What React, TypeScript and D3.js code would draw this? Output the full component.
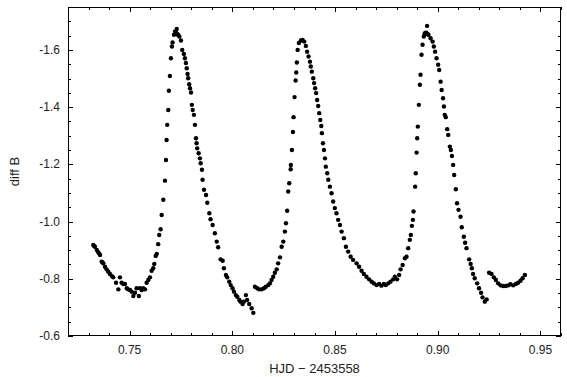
import React from "react";
import * as d3 from "d3";

// HJD - 2453558 (x) and differential B magnitude (y)
const minimum1: [number, number][] = [
  [0.7323, -0.918], [0.7327, -0.915], [0.7331, -0.912], [0.7340, -0.901], [0.7347, -0.893],
  [0.7352, -0.888], [0.7356, -0.883], [0.7364, -0.860], [0.7368, -0.857], [0.7372, -0.854],
  [0.7380, -0.842], [0.7388, -0.833], [0.7396, -0.825], [0.7404, -0.817], [0.7413, -0.810],
  [0.7420, -0.805], [0.7434, -0.786], [0.7445, -0.763], [0.7453, -0.805], [0.7461, -0.786],
  [0.7469, -0.782], [0.7477, -0.782], [0.7486, -0.767], [0.7493, -0.763], [0.7502, -0.761],
  [0.7510, -0.755], [0.7518, -0.740], [0.7526, -0.751], [0.7534, -0.767], [0.7545, -0.740],
  [0.7550, -0.767], [0.7559, -0.761], [0.7566, -0.767], [0.7575, -0.763], [0.7583, -0.786],
  [0.7591, -0.796], [0.7599, -0.805], [0.7607, -0.828], [0.7615, -0.837], [0.7620, -0.852],
  [0.7627, -0.880], [0.7632, -0.887], [0.7639, -0.921], [0.7644, -0.953], [0.7651, -0.973],
];

const rise1: [number, number][] = [
  [0.7656, -1.023], [0.7664, -1.076], [0.7672, -1.143], [0.7677, -1.215], [0.7680, -1.285],
  [0.7683, -1.338], [0.7688, -1.390], [0.7691, -1.457], [0.7696, -1.509], [0.7701, -1.571],
  [0.7706, -1.612], [0.7709, -1.626], [0.7716, -1.653], [0.7721, -1.664], [0.7725, -1.660],
  [0.7729, -1.673], [0.7736, -1.652],
];

const fall1: [number, number][] = [
  [0.7732, -1.656], [0.7742, -1.647], [0.7750, -1.633], [0.7756, -1.600], [0.7764, -1.586],
  [0.7769, -1.571], [0.7774, -1.554], [0.7778, -1.536], [0.7782, -1.516], [0.7785, -1.501],
  [0.7790, -1.480], [0.7794, -1.466], [0.7799, -1.451], [0.7803, -1.408], [0.7807, -1.390],
  [0.7813, -1.373], [0.7818, -1.338], [0.7823, -1.291], [0.7826, -1.274], [0.7829, -1.256],
  [0.7836, -1.239], [0.7842, -1.221], [0.7846, -1.204], [0.7852, -1.181], [0.7855, -1.146],
  [0.7862, -1.111], [0.7872, -1.093], [0.7878, -1.066], [0.7888, -1.029], [0.7894, -1.008],
  [0.7904, -0.988], [0.7915, -0.959], [0.7924, -0.930], [0.7931, -0.910], [0.7943, -0.868],
  [0.7953, -0.863], [0.7959, -0.837], [0.7969, -0.813], [0.7975, -0.805], [0.7985, -0.790],
  [0.7992, -0.778], [0.8001, -0.767], [0.8008, -0.755], [0.8017, -0.743], [0.8024, -0.737],
  [0.8034, -0.726], [0.8040, -0.720], [0.8050, -0.712], [0.8056, -0.720], [0.8066, -0.743],
  [0.8072, -0.726], [0.8082, -0.712], [0.8094, -0.697], [0.8102, -0.681],
];

const minimum2: [number, number][] = [
  [0.8110, -0.772], [0.8121, -0.767], [0.8131, -0.763], [0.8143, -0.763], [0.8154, -0.767],
  [0.8163, -0.772], [0.8175, -0.778], [0.8183, -0.784], [0.8191, -0.796], [0.8199, -0.807],
  [0.8207, -0.821], [0.8216, -0.833], [0.8223, -0.854], [0.8232, -0.875], [0.8240, -0.912],
  [0.8248, -0.930], [0.8256, -0.965], [0.8261, -0.994], [0.8267, -1.038], [0.8272, -1.105],
  [0.8277, -1.134], [0.8284, -1.183], [0.8285, -1.198], [0.8290, -1.250], [0.8295, -1.313],
  [0.8298, -1.365], [0.8303, -1.435], [0.8308, -1.493], [0.8311, -1.521], [0.8314, -1.556],
  [0.8318, -1.600], [0.8324, -1.624], [0.8334, -1.633], [0.8342, -1.635], [0.8350, -1.629],
];

const fall2: [number, number][] = [
  [0.8358, -1.614], [0.8364, -1.594], [0.8371, -1.577], [0.8378, -1.559], [0.8382, -1.542],
  [0.8387, -1.524], [0.8394, -1.501], [0.8398, -1.484], [0.8403, -1.466], [0.8408, -1.449],
  [0.8413, -1.425], [0.8418, -1.404], [0.8423, -1.379], [0.8428, -1.355], [0.8433, -1.334],
  [0.8436, -1.309], [0.8441, -1.274], [0.8446, -1.250], [0.8451, -1.221], [0.8455, -1.192],
  [0.8462, -1.169], [0.8467, -1.146], [0.8475, -1.122], [0.8483, -1.099], [0.8491, -1.070],
  [0.8499, -1.047], [0.8507, -1.029], [0.8515, -1.006], [0.8524, -0.988], [0.8532, -0.965],
  [0.8543, -0.942], [0.8553, -0.912], [0.8564, -0.895], [0.8576, -0.877], [0.8588, -0.866],
  [0.8605, -0.854], [0.8617, -0.842], [0.8629, -0.828], [0.8640, -0.817], [0.8653, -0.807],
  [0.8666, -0.798], [0.8678, -0.790], [0.8689, -0.784], [0.8702, -0.778], [0.8715, -0.782],
  [0.8726, -0.776], [0.8738, -0.782], [0.8747, -0.778], [0.8759, -0.784], [0.8770, -0.790],
  [0.8783, -0.798], [0.8791, -0.807], [0.8802, -0.798], [0.8812, -0.813],
];

const rise3: [number, number][] = [
  [0.8819, -0.833], [0.8829, -0.848], [0.8840, -0.872], [0.8848, -0.877], [0.8856, -0.907],
  [0.8864, -0.936], [0.8869, -0.953], [0.8874, -0.985], [0.8879, -1.006], [0.8882, -1.035],
  [0.8890, -1.122], [0.8893, -1.169], [0.8897, -1.241], [0.8900, -1.291], [0.8903, -1.332],
  [0.8908, -1.408], [0.8913, -1.478], [0.8916, -1.513], [0.8921, -1.583], [0.8926, -1.618],
  [0.8932, -1.647], [0.8936, -1.656], [0.8939, -1.659], [0.8944, -1.660], [0.8948, -1.684],
  [0.8951, -1.655],
];

const fall3: [number, number][] = [
  [0.8955, -1.653], [0.8965, -1.641], [0.8975, -1.629], [0.8981, -1.612], [0.8987, -1.594],
  [0.8994, -1.571], [0.9002, -1.548], [0.9007, -1.530], [0.9014, -1.489], [0.9019, -1.460],
  [0.9026, -1.431], [0.9030, -1.402], [0.9034, -1.373], [0.9039, -1.365], [0.9046, -1.323],
  [0.9051, -1.303], [0.9059, -1.262], [0.9064, -1.250], [0.9069, -1.229], [0.9075, -1.198],
  [0.9080, -1.163], [0.9088, -1.113], [0.9094, -1.064], [0.9101, -1.041], [0.9111, -1.017],
  [0.9117, -0.980], [0.9127, -0.947], [0.9133, -0.926], [0.9140, -0.907], [0.9153, -0.868],
  [0.9160, -0.852], [0.9166, -0.837], [0.9172, -0.817], [0.9180, -0.802], [0.9192, -0.784],
  [0.9201, -0.767], [0.9211, -0.751], [0.9218, -0.735], [0.9229, -0.720], [0.9238, -0.728],
];

const minimum4: [number, number][] = [
  [0.9250, -0.821], [0.9262, -0.817], [0.9273, -0.805], [0.9283, -0.796], [0.9294, -0.784],
  [0.9306, -0.777], [0.9318, -0.775], [0.9331, -0.775], [0.9343, -0.777], [0.9354, -0.781],
  [0.9367, -0.777], [0.9380, -0.782], [0.9391, -0.786], [0.9403, -0.793], [0.9413, -0.802],
  [0.9424, -0.813],
];

const xMajorTicks = [0.75, 0.8, 0.85, 0.9, 0.95];
const yMajorTicks = [-0.6, -0.8, -1.0, -1.2, -1.4, -1.6];
const xLabel = "HJD \u2212 2453558";
const yLabel = "diff B";

const W = 567;
const H = 377;
const L = 68;
const R = 561;
const T = 7;
const B = 336;

export default function App() {
  const x = d3.scaleLinear().domain([0.72, 0.96]).range([L, R]);
  const y = d3.scaleLinear().domain([-0.6, -1.75]).range([B, T]);
  const points = [
    ...minimum1, ...rise1, ...fall1, ...minimum2, ...fall2, ...rise3, ...fall3, ...minimum4,
  ];
  const xMinor = d3.range(72, 97).map((v) => v / 100);
  const yMinor = d3.range(12, 36).map((v) => -v / 20);
  const font = "'Liberation Sans', Arial, sans-serif";
  const tickColor = "#222";
  return (
    <svg
      width={W}
      height={H}
      style={{ position: "fixed", left: 0, top: 0, background: "#fff" }}
      fontFamily={font}
    >
      <rect x={0} y={0} width={W} height={H} fill="#fff" />
      {xMinor.map((v, i) => (
        <g key={"xm" + i} stroke="#000" strokeWidth={1}>
          <line x1={Math.round(x(v)) + 0.5} x2={Math.round(x(v)) + 0.5} y1={B} y2={B - 3} />
          <line x1={Math.round(x(v)) + 0.5} x2={Math.round(x(v)) + 0.5} y1={T} y2={T + 3} />
        </g>
      ))}
      {yMinor.map((v, i) => (
        <g key={"ym" + i} stroke="#000" strokeWidth={1}>
          <line x1={L} x2={L + 3} y1={Math.round(y(v)) + 0.5} y2={Math.round(y(v)) + 0.5} />
          <line x1={R} x2={R - 3} y1={Math.round(y(v)) + 0.5} y2={Math.round(y(v)) + 0.5} />
        </g>
      ))}
      {xMajorTicks.map((v, i) => (
        <g key={"xM" + i}>
          <line x1={Math.round(x(v)) + 0.5} x2={Math.round(x(v)) + 0.5} y1={B} y2={B - 5} stroke="#000" />
          <line x1={Math.round(x(v)) + 0.5} x2={Math.round(x(v)) + 0.5} y1={T} y2={T + 5} stroke="#000" />
          <text x={x(v)} y={354} textAnchor="middle" fontSize={12} fill={tickColor}>
            {d3.format(".2f")(v)}
          </text>
        </g>
      ))}
      {yMajorTicks.map((v, i) => (
        <g key={"yM" + i}>
          <line x1={L} x2={L + 5} y1={Math.round(y(v)) + 0.5} y2={Math.round(y(v)) + 0.5} stroke="#000" />
          <line x1={R} x2={R - 5} y1={Math.round(y(v)) + 0.5} y2={Math.round(y(v)) + 0.5} stroke="#000" />
          <text x={60} y={y(v) + 4} textAnchor="end" fontSize={12} fill={tickColor}>
            {v.toFixed(1)}
          </text>
        </g>
      ))}
      <rect x={L + 0.5} y={T + 0.5} width={R - L - 1} height={B - T - 1} fill="none" stroke="#000" strokeWidth={1} />
      {points.map((p, i) => (
        <circle key={"p" + i} cx={x(p[0])} cy={y(p[1])} r={2.2} fill="#000" />
      ))}
      <text x={(L + R) / 2} y={373} textAnchor="middle" fontSize={13} fill={tickColor}>
        {xLabel}
      </text>
      <text
        transform={`translate(19, ${(T + B) / 2}) rotate(-90)`}
        textAnchor="middle"
        fontSize={13}
        fill={tickColor}
      >
        {yLabel}
      </text>
    </svg>
  );
}
